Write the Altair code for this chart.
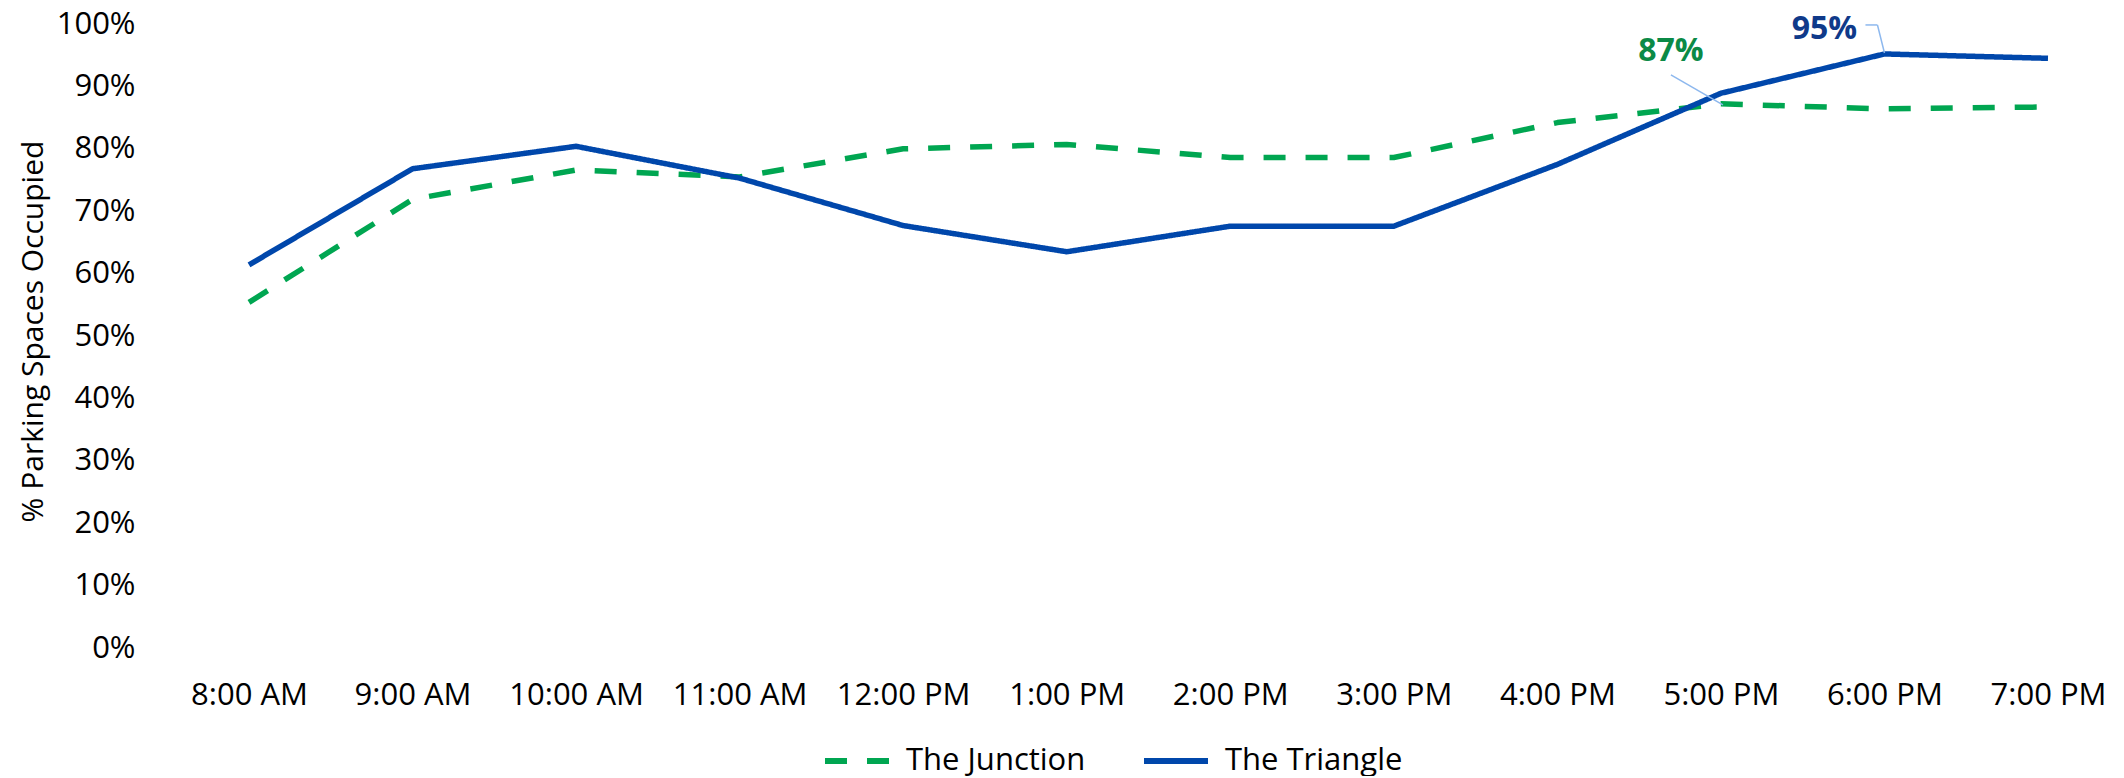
import altair as alt
import pandas as pd

# ---- data ----
times = ["8:00 AM", "9:00 AM", "10:00 AM", "11:00 AM", "12:00 PM", "1:00 PM",
         "2:00 PM", "3:00 PM", "4:00 PM", "5:00 PM", "6:00 PM", "7:00 PM"]
junction = [55.4, 71.9, 76.6, 75.5, 80.0, 80.7, 78.6, 78.6, 84.2, 87.2, 86.4, 86.7]
triangle = [61.4, 76.8, 80.4, 75.3, 67.7, 63.5, 67.6, 67.6, 77.5, 88.9, 95.2, 94.5]
series_names = ["The Junction", "The Triangle"]
series_colors = ["#00A651", "#0047AB"]
label_colors = ["#0B8A46", "#0F3A8A"]
y_ticks = [0, 0.1, 0.2, 0.3, 0.4, 0.5, 0.6, 0.7, 0.8, 0.9, 1.0]

rows = []
for i, t in enumerate(times):
    rows.append({"idx": i, "time": t, "series": series_names[0], "value": junction[i] / 100})
    rows.append({"idx": i, "time": t, "series": series_names[1], "value": triangle[i] / 100})
df = pd.DataFrame(rows)

label_js = "[" + ",".join("'" + t + "'" for t in times) + "]"

x_enc = alt.X(
    "idx:Q",
    scale=alt.Scale(domain=[0, len(times) - 1], range=[80, 1879], zero=False, nice=False),
    axis=alt.Axis(
        title=None, values=list(range(len(times))), labelExpr=label_js + "[datum.value]",
        labelAngle=0, labelFontSize=31, labelPadding=32, labelColor="#000000",
        domain=False, ticks=False, grid=False, labelFlush=False, labelOverlap=False,
    ),
)
y_enc = alt.Y(
    "value:Q",
    scale=alt.Scale(domain=[0, 1], nice=False),
    axis=alt.Axis(
        format=".0%", values=y_ticks, title="% Parking Spaces Occupied",
        titleFontSize=30, titleFontWeight="normal", titleColor="#000000",
        titleAngle=270, titleX=-127, titleY=307, titleAlign="center", titleBaseline="alphabetic",
        labelFontSize=31, labelPadding=34, labelColor="#000000",
        gridColor="#CFE1F8", gridWidth=2, domain=False, ticks=False,
    ),
)

legend = alt.Legend(
    title=None, orient="none", legendX=653, legendY=702, direction="horizontal",
    symbolType="stroke", symbolSize=4096, symbolStrokeWidth=6,
    labelFontSize=31, labelColor="#000000", labelOffset=14, columnPadding=46, padding=0,
    labelLimit=0,
)

lines = alt.Chart(df).mark_line(strokeWidth=5.5, strokeJoin="round").encode(
    x=x_enc,
    y=y_enc,
    color=alt.Color("series:N", scale=alt.Scale(domain=series_names, range=series_colors), legend=legend),
    strokeDash=alt.StrokeDash("series:N", scale=alt.Scale(domain=series_names, range=[[22, 20], [1, 0]]), legend=legend),
)

# annotation points derived from the series arrays
ann_j = pd.DataFrame([{"idx": 9, "value": junction[9] / 100, "label": f"{round(junction[9])}%"}])
ann_t = pd.DataFrame([{"idx": 10, "value": triangle[10] / 100, "label": f"{round(triangle[10])}%"}])

def pos():
    return dict(x=alt.X("idx:Q"), x2=alt.X2("idx"), y=alt.Y("value:Q"), y2=alt.Y2("value"))

# white gaps in the 100% gridline behind the labels
gap_j = alt.Chart(ann_j).mark_rule(color="white", strokeWidth=5, xOffset=-91, x2Offset=-9).encode(
    x=alt.X("idx:Q"), x2=alt.X2("idx"), y=alt.datum(1.0))
gap_t = alt.Chart(ann_t).mark_rule(color="white", strokeWidth=5, xOffset=-101, x2Offset=-19).encode(
    x=alt.X("idx:Q"), x2=alt.X2("idx"), y=alt.datum(1.0))

leader_color = "#8DB8EE"
lead_j = alt.Chart(ann_j).mark_rule(color=leader_color, strokeWidth=1.5,
                                    xOffset=-50, yOffset=-29, x2Offset=2, y2Offset=1).encode(**pos())
lead_t1 = alt.Chart(ann_t).mark_rule(color=leader_color, strokeWidth=1.5,
                                     xOffset=-19, yOffset=-29, x2Offset=-7, y2Offset=-29).encode(**pos())
lead_t2 = alt.Chart(ann_t).mark_rule(color=leader_color, strokeWidth=1.5,
                                     xOffset=-7, yOffset=-29, x2Offset=0, y2Offset=-1).encode(**pos())

text_j = alt.Chart(ann_j).mark_text(dx=-50, dy=-43, align="center", baseline="alphabetic",
                                    fontSize=32, fontWeight="bold", color=label_colors[0]).encode(
    x="idx:Q", y="value:Q", text="label:N")
text_t = alt.Chart(ann_t).mark_text(dx=-60, dy=-15, align="center", baseline="alphabetic",
                                    fontSize=32, fontWeight="bold", color=label_colors[1]).encode(
    x="idx:Q", y="value:Q", text="label:N")

chart = alt.layer(gap_j, gap_t, lines, lead_j, lead_t1, lead_t2, text_j, text_t).properties(
    width=1947, height=624,
    autosize=alt.AutoSizeParams(type="none"),
    padding={"left": 161, "top": 16, "right": 0, "bottom": 128},
).configure(font="Open Sans").configure_view(stroke=None)

chart.save("out.html", embed_options={"renderer": "svg", "actions": False})
